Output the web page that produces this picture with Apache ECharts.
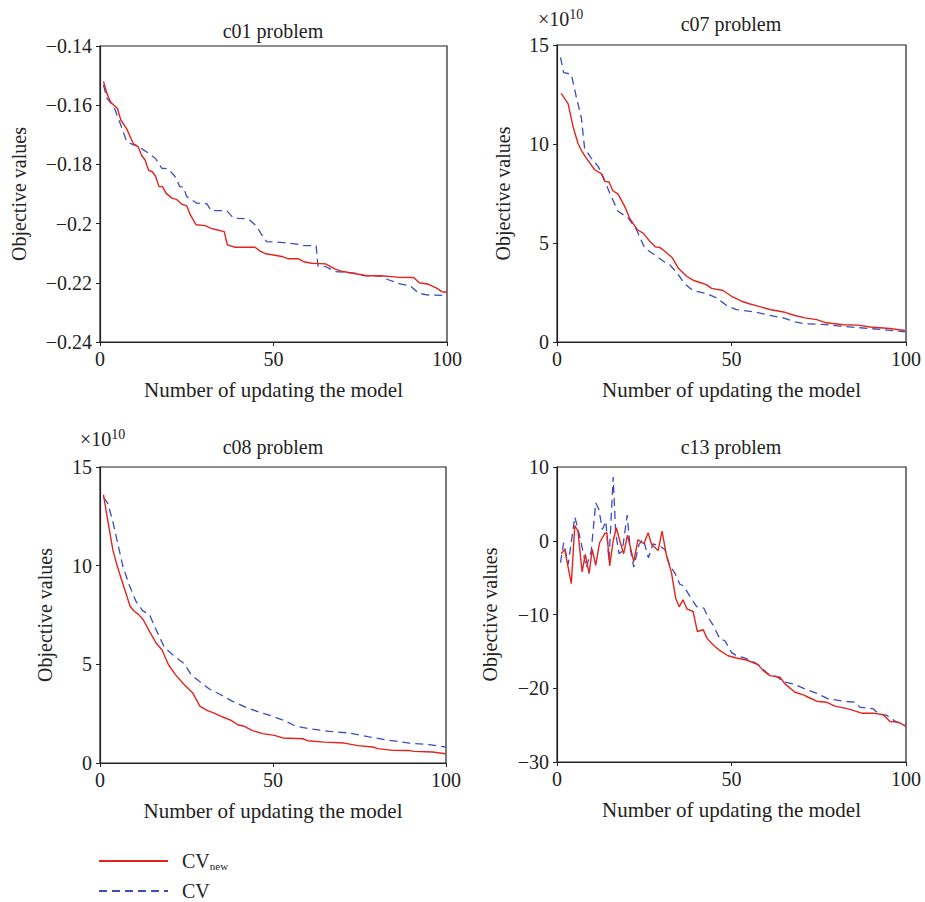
<!DOCTYPE html>
<html>
<head>
<meta charset="utf-8">
<script src="https://cdn.jsdelivr.net/npm/echarts@6/dist/echarts.min.js"></script>
<style>
html,body{margin:0;padding:0;background:#fff;}
#chart{width:925px;height:902px;}
</style>
</head>
<body>
<div id="chart"></div>
<script>
// ---- data ----
var xTicks = [0, 50, 100];
var titles = ['c01 problem', 'c07 problem', 'c08 problem', 'c13 problem'];
var legendNames = ['CV_new', 'CV'];

var c01NewX = [1,2,3,4,5,6,7.7,9.6,11,12,13,14,15,16,17,18,19,20.7,22,23.5,25,26,27.7,30.3,32,33,35.8,36.7,39,44.7,46,47.8,50,52.4,54.3,57.2,58.8,61,65,67.8,70,74.5,77,81,85.6,90.4,92,94.7,97,98.5,100];
var c01NewY = [-0.152,-0.156,-0.1588,-0.160,-0.161,-0.165,-0.168,-0.173,-0.174,-0.177,-0.1785,-0.182,-0.1824,-0.184,-0.1875,-0.1875,-0.1897,-0.1914,-0.1918,-0.1934,-0.194,-0.197,-0.2004,-0.2007,-0.2016,-0.2019,-0.2027,-0.2072,-0.208,-0.208,-0.2092,-0.2102,-0.2106,-0.2111,-0.2119,-0.2119,-0.2129,-0.2134,-0.2136,-0.2154,-0.2162,-0.2171,-0.2176,-0.2176,-0.2181,-0.2182,-0.2200,-0.2205,-0.2218,-0.2230,-0.2232];
var c01CvX = [1,2,4,5.8,7.7,9.6,11,12.5,14,16,17.8,19.7,21.6,23,24,25,27.9,30.8,32,36.5,38.5,42.8,45.2,46.3,48,52.9,56.7,58.7,62.3,62.8,65,67.8,70.2,74,76,80.8,82.7,86.5,89.4,91.8,94.2,100];
var c01CvY = [-0.1532,-0.1577,-0.1605,-0.1661,-0.1723,-0.1734,-0.1738,-0.1751,-0.1762,-0.178,-0.1813,-0.1815,-0.1841,-0.1875,-0.1876,-0.1909,-0.1931,-0.1933,-0.1956,-0.1956,-0.1982,-0.1984,-0.201,-0.2032,-0.2061,-0.2064,-0.2069,-0.2074,-0.2075,-0.2143,-0.2145,-0.2162,-0.2164,-0.2168,-0.2176,-0.2177,-0.2188,-0.2204,-0.221,-0.2235,-0.2241,-0.2243];

var c07NewX = [1.2,3.2,4.6,6,7,8.4,10.8,12.7,13.7,14.9,16,17.5,19.4,20.8,23,24.7,26.6,28.3,29.4,30.9,33.1,34.7,37.1,39,41.4,42.8,44.3,47.6,50,52.9,55.3,57.6,61,65.3,68.2,71,74.4,77.2,82,86.3,89.7,95.4,99.7];
var c07NewY = [12.56,12.03,10.88,10.04,9.67,9.29,8.70,8.50,8.11,8.08,7.64,7.47,6.85,6.26,5.67,5.50,5.08,4.80,4.78,4.58,4.24,3.74,3.32,3.12,2.98,2.90,2.71,2.60,2.31,2.06,1.92,1.81,1.64,1.50,1.34,1.22,1.13,0.97,0.87,0.85,0.76,0.68,0.58];
var c07CvX = [1,1.9,4.1,5.5,7,7.9,9.8,11.8,13.2,15.1,17.5,20.4,22.8,25.1,27.5,30.9,32.3,34.7,36.6,39,42.8,45.7,48.6,51.4,57.2,61,64.8,68.2,71,76.3,81.1,86.8,92.5,99.7];
var c07CvY = [14.38,13.61,13.52,12.40,11.30,9.79,9.29,8.87,8.36,7.52,6.60,6.26,5.67,4.75,4.46,4.03,3.91,3.41,2.93,2.60,2.45,2.23,1.84,1.64,1.50,1.34,1.22,1.02,0.92,0.89,0.80,0.72,0.64,0.51];

var c08NewX = [1,2.2,3.7,4.6,5.6,7,8.7,9.9,11.2,12.5,14.3,16.2,17.9,19.8,21.8,23.9,26.8,28.9,31.1,33,35.5,37.9,39.8,41.7,44.1,47,50.4,52.8,58.6,60,64.8,70.6,74.5,78.8,80.3,84.6,89.4,90.8,96.1,99.8];
var c08NewY = [13.60,12.33,10.81,10.22,9.63,8.87,7.94,7.69,7.52,7.26,6.67,6.08,5.74,4.98,4.48,4.05,3.55,2.87,2.65,2.53,2.33,2.16,1.94,1.86,1.64,1.49,1.40,1.27,1.23,1.13,1.06,1.01,0.88,0.81,0.73,0.64,0.63,0.59,0.56,0.47];
var c08CvX = [1,2.2,3.7,5.1,6.6,8.5,10.4,12.3,14.3,16.2,18.6,21,24.4,26.3,28.7,31.6,34.9,38.3,42.2,46,49.4,53.8,56.6,60.5,66.3,72.1,77.8,83.6,89.4,95.2,99.8];
var c08CvY = [13.46,13.18,12.25,11.15,9.97,9.00,8.19,7.72,7.52,6.76,5.86,5.49,5.02,4.48,4.14,3.75,3.46,3.12,2.82,2.58,2.40,2.11,1.86,1.74,1.60,1.52,1.32,1.15,1.01,0.93,0.81];

var c13NewX = [1.2,2.2,4.1,5.1,6,7.2,8.1,9.2,10.1,11.1,12.2,13.7,14.3,15.1,16.1,17,18,19.1,20.2,22,23.2,24.9,26.1,27.1,29,30.1,31.4,32.8,34,35,36.1,37.3,39,40.2,41.9,43,44.7,46.7,49,51.4,54.3,57.6,59.1,61,63.9,65.3,68.2,70.6,72,74.4,77.2,79.6,82.5,84.4,87.3,90.6,93.5,95.4,97.8,100];
var c13NewY = [-1.76,-1.17,-5.81,2.07,1.31,-4.23,-1.85,-4.46,-1.17,-3.33,-0.27,0.99,1.08,-3.42,0.0,1.76,0.0,-1.76,0.77,-2.84,0.14,-0.41,1.08,-0.5,-1.31,1.31,-2.07,-4.32,-7.79,-8.96,-8.02,-9.28,-9.59,-12.3,-12.07,-13.24,-14.1,-14.91,-15.59,-15.9,-16.17,-16.8,-17.61,-18.29,-18.51,-19.41,-20.54,-20.9,-21.22,-21.76,-21.89,-22.43,-22.7,-22.93,-23.38,-23.38,-23.6,-24.5,-24.59,-25.18];
var c13CvX = [1,1.9,3.2,5.1,6.5,7.4,8.4,9.8,11.1,12,13,14,14.9,16.1,16.8,17.8,18.7,20.1,21,22,23.5,24.7,26.2,27.5,29.4,30.9,32.3,33.7,35.2,36.3,38,40,42.1,43.3,44.7,46.7,48.1,50,51.4,53.3,55.7,57.6,60.5,62.9,64.8,67.7,71,74.4,77.7,82,85.4,86.8,90.6,92.1,94.5,97.3,100];
var c13CvY = [-2.97,-0.27,-3.2,3.24,0.63,-1.4,-3.65,-1.4,5.14,4.23,1.53,2.66,-2.75,8.65,1.08,-1.76,-1.4,3.47,-1.17,-3.56,-0.5,0.23,-2.3,-0.41,-0.72,-1.17,-3.42,-4.32,-5.9,-6.13,-7.48,-8.92,-9.14,-10.41,-11.4,-13.33,-13.56,-15.14,-15.59,-15.81,-16.26,-16.8,-18.06,-18.42,-19.1,-19.41,-20.09,-20.68,-21.44,-21.76,-21.89,-22.57,-22.79,-23.47,-23.69,-24.59,-24.91];

var yRanges = [
  {min: -0.24, max: -0.14, interval: 0.02},
  {min: 0, max: 15, interval: 5},
  {min: 0, max: 15, interval: 5},
  {min: -30, max: 10, interval: 10}
];

// ---- layout ----
var FONT = '"Liberation Serif", "DejaVu Serif", serif';
var RED = '#e3241e';
var BLUE = '#3b4cc0';
var grids = [
  {left: 100, top: 46, width: 347, height: 296},
  {left: 557, top: 45, width: 349, height: 297},
  {left: 100, top: 467, width: 346, height: 296},
  {left: 557, top: 467, width: 349, height: 295}
];
var yNameGaps = [71, 44, 45, 57];
var titlePos = [[273, 31], [731, 24], [273, 447], [731, 447]];

function zip(xs, ys) { return xs.map(function (x, i) { return [x, ys[i]]; }); }
function fmt(v) {
  var a = Number(Math.abs(v).toFixed(4));
  return (v < 0 ? '\u2212' : '') + a;
}

var seriesData = [
  [zip(c01NewX, c01NewY), zip(c01CvX, c01CvY)],
  [zip(c07NewX, c07NewY), zip(c07CvX, c07CvY)],
  [zip(c08NewX, c08NewY), zip(c08CvX, c08CvY)],
  [zip(c13NewX, c13NewY), zip(c13CvX, c13CvY)]
];

var xAxes = [], yAxes = [], series = [], gridOpts = [], graphics = [];
for (var i = 0; i < 4; i++) {
  gridOpts.push(Object.assign({show: true, borderColor: '#222', borderWidth: 1.2, containLabel: false}, grids[i]));
  xAxes.push({
    type: 'value', gridIndex: i, min: xTicks[0], max: xTicks[xTicks.length - 1], interval: xTicks[1] - xTicks[0],
    name: 'Number of updating the model', nameLocation: 'middle', nameGap: 37,
    nameTextStyle: {fontFamily: FONT, fontSize: 21, color: '#222'},
    axisLine: {show: true, onZero: false, lineStyle: {color: '#222', width: 1.2}},
    axisTick: {show: true, inside: false, length: 4, lineStyle: {color: '#222'}},
    axisLabel: {fontFamily: FONT, fontSize: 20, color: '#222', margin: 7},
    splitLine: {show: false}
  });
  yAxes.push({
    type: 'value', gridIndex: i, min: yRanges[i].min, max: yRanges[i].max, interval: yRanges[i].interval,
    name: 'Objective values', nameLocation: 'middle', nameGap: yNameGaps[i], nameRotate: 90,
    nameTextStyle: {fontFamily: FONT, fontSize: 20, color: '#222'},
    axisLine: {show: true, onZero: false, lineStyle: {color: '#222', width: 1.2}},
    axisTick: {show: true, inside: false, length: 4, lineStyle: {color: '#222'}},
    axisLabel: {fontFamily: FONT, fontSize: 20, color: '#222', margin: 8, formatter: fmt},
    splitLine: {show: false}
  });
  series.push({
    name: legendNames[0], type: 'line', xAxisIndex: i, yAxisIndex: i, data: seriesData[i][0],
    symbol: 'none', showSymbol: false, smooth: false, lineStyle: {color: RED, width: 1.4}, itemStyle: {color: RED}, z: 3
  });
  series.push({
    name: legendNames[1], type: 'line', xAxisIndex: i, yAxisIndex: i, data: seriesData[i][1],
    symbol: 'none', showSymbol: false, smooth: false, lineStyle: {color: BLUE, width: 1.3, type: [8, 5]}, itemStyle: {color: BLUE}, z: 2
  });
  graphics.push({
    type: 'text', x: titlePos[i][0], y: titlePos[i][1],
    style: {text: titles[i], fontFamily: FONT, fontSize: 20, fill: '#222', align: 'center', verticalAlign: 'middle'}
  });
}
// exponent labels
[[538, 18], [80, 438]].forEach(function (p) {
  graphics.push({
    type: 'text', x: p[0], y: p[1],
    style: {
      text: '{a|\u00d710}{b|10}', fontFamily: FONT, fill: '#222', verticalAlign: 'middle', align: 'left',
      rich: {
        a: {fontFamily: FONT, fontSize: 20, fill: '#222', verticalAlign: 'bottom', lineHeight: 22},
        b: {fontFamily: FONT, fontSize: 14, fill: '#222', verticalAlign: 'top', lineHeight: 22, padding: [0, 0, 6, 0]}
      }
    }
  });
});

var chart = echarts.init(document.getElementById('chart'), null, {renderer: 'svg', width: 925, height: 902});
chart.setOption({
  animation: false,
  backgroundColor: '#fff',
  grid: gridOpts,
  xAxis: xAxes,
  yAxis: yAxes,
  series: series,
  graphic: graphics,
  legend: {
    left: 98, top: 850, height: 52, orient: 'vertical', itemWidth: 69, itemHeight: 14, itemGap: 10,
    padding: 0,
    data: legendNames,
    itemStyle: {opacity: 0},
    formatter: function (n) {
      return n === 'CV_new' ? '{a|CV}{b|new}' : '{a|CV}';
    },
    textStyle: {
      fontFamily: FONT, fontSize: 20, color: '#222', padding: [0, 0, 0, 9],
      rich: {
        a: {fontFamily: FONT, fontSize: 20, color: '#222', verticalAlign: 'middle', lineHeight: 20},
        b: {fontFamily: FONT, fontSize: 11, color: '#222', verticalAlign: 'bottom', lineHeight: 20, padding: [10, 0, 0, 0]}
      }
    }
  }
});
</script>
</body>
</html>
